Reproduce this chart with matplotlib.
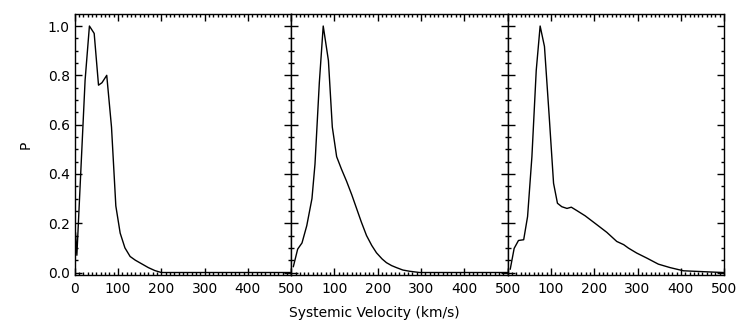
import matplotlib
matplotlib.use("Agg")
import matplotlib.pyplot as plt
from matplotlib.ticker import MultipleLocator

# velocity (km/s) and normalised probability for the three panels
v1 = [2, 5, 24, 34, 45, 55, 63, 74, 85, 95, 105, 116, 128, 140, 155, 170, 185, 200, 500]
p1 = [0.16, 0.07, 0.78, 1.0, 0.97, 0.76, 0.77, 0.80, 0.59, 0.27, 0.16, 0.10, 0.065,
      0.05, 0.035, 0.02, 0.008, 0.0, 0.0]

v2 = [5, 15, 25, 36, 48, 55, 65, 74, 86, 95, 105, 116, 128, 140, 151, 162, 174, 186,
      197, 210, 220, 232, 243, 258, 274, 297, 500]
p2 = [0.024, 0.095, 0.12, 0.19, 0.30, 0.44, 0.77, 1.0, 0.86, 0.59, 0.47, 0.42, 0.37,
      0.315, 0.26, 0.205, 0.15, 0.11, 0.08, 0.055, 0.04, 0.028, 0.02, 0.01, 0.005, 0.0, 0.0]

v3 = [6, 15, 25, 37, 46, 56, 66, 75, 85, 96, 106, 115, 125, 137, 147, 160, 179, 206,
      229, 252, 268, 279, 298, 322, 348, 375, 406, 444, 498]
p3 = [0.014, 0.098, 0.13, 0.133, 0.227, 0.47, 0.82, 1.0, 0.917, 0.632, 0.362, 0.281,
      0.267, 0.26, 0.265, 0.251, 0.23, 0.194, 0.163, 0.126, 0.113, 0.099, 0.079, 0.058,
      0.034, 0.02, 0.007, 0.004, 0.0]

xticks = [0, 100, 200, 300, 400, 500]
yticks = [0.0, 0.2, 0.4, 0.6, 0.8, 1.0]

plt.rcParams["font.size"] = 10
fig = plt.figure(figsize=(7.47, 3.32), dpi=100)

left, bottom, width, height = 0.1, 0.171, 0.2898, 0.787
panels = [(v1, p1), (v2, p2), (v3, p3)]
for i, (v, p) in enumerate(panels):
    ax = fig.add_axes([left + i * width, bottom, width, height])
    ax.plot(v, p, color="black", lw=1.0)
    ax.set_xlim(0, 500)
    ax.set_ylim(-0.011, 1.049)
    ax.set_xticks(xticks)
    # the "0" of the next panel sits under the "500" of the previous one
    labels = [str(t) for t in xticks]
    if i > 0:
        labels[0] = ""
    ax.set_xticklabels(labels)
    ax.xaxis.set_minor_locator(MultipleLocator(10))
    ax.set_yticks(yticks)
    ax.yaxis.set_minor_locator(MultipleLocator(0.05))
    ax.tick_params(which="both", direction="in", top=True, right=True, width=1.0)
    ax.tick_params(which="major", length=5)
    ax.tick_params(which="minor", length=2.5)
    ax.tick_params(axis="x", pad=5)
    for s in ax.spines.values():
        s.set_linewidth(1.0)
    if i == 0:
        ax.set_yticklabels(["%.1f" % t for t in yticks])
        ax.set_ylabel("P", labelpad=11)
    else:
        ax.set_yticklabels([])

fig.text(374 / 747, 0.035, "Systemic Velocity (km/s)", ha="center", va="bottom", fontsize=10)
fig.savefig("out.png", dpi=100)
